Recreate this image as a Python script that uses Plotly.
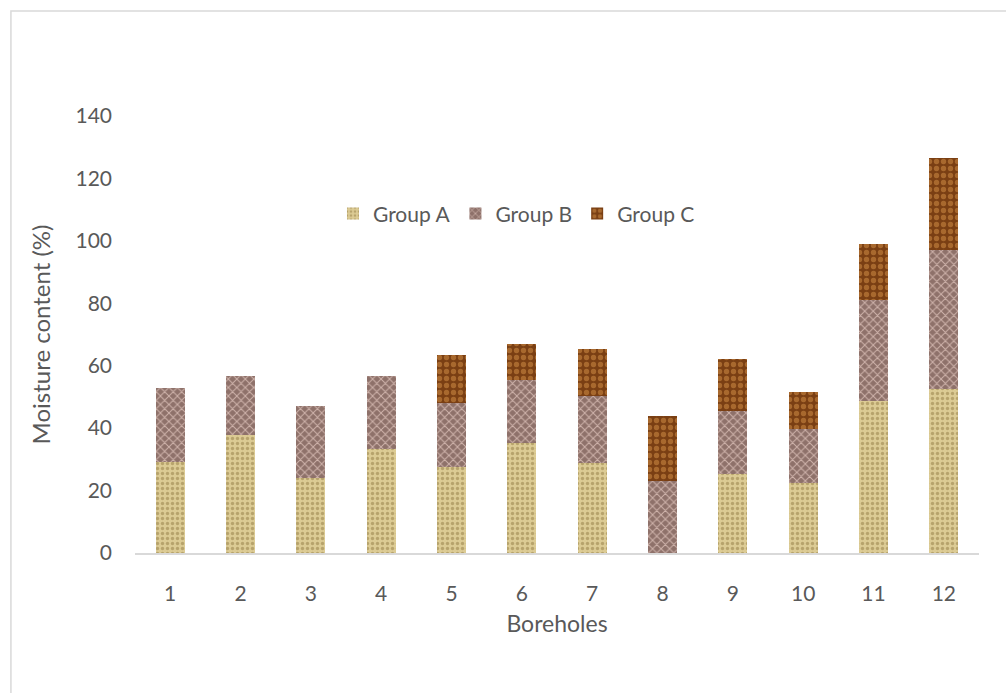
import plotly.graph_objects as go

# Moisture content per borehole, split into three stacked groups
boreholes = ["1", "2", "3", "4", "5", "6", "7", "8", "9", "10", "11", "12"]
group_a = [29.3, 37.8, 24.1, 33.3, 27.7, 35.4, 28.9, 0.0, 25.4, 22.5, 48.8, 52.7]
group_b = [23.6, 18.9, 23.0, 23.4, 20.3, 20.0, 21.4, 23.1, 20.1, 17.2, 32.3, 44.4]
group_c = [0.0, 0.0, 0.0, 0.0, 15.5, 11.6, 15.1, 20.8, 16.7, 11.9, 17.9, 29.5]
y_ticks = [0, 20, 40, 60, 80, 100, 120, 140]

FONT = "Lato, 'Open Sans', sans-serif"
TEXT = "#595959"

# textured fills: sand, snake skin, wood
styles = [
    ("Group A", group_a, dict(bgcolor="#dccb94", fgcolor="#b7a36c", shape=".", size=5, solidity=0.35)),
    ("Group B", group_b, dict(bgcolor="#8e716a", fgcolor="#cfb3ab", shape="x", size=6, solidity=0.3)),
    ("Group C", group_c, dict(bgcolor="#7a3f13", fgcolor="#a8692e", shape=".", size=7, solidity=0.45)),
]

fig = go.Figure()
for name, vals, pat in styles:
    fig.add_trace(go.Bar(
        x=boreholes, y=vals, name=name,
        marker=dict(color=pat["bgcolor"], line=dict(width=0),
                    pattern=dict(shape=pat["shape"], bgcolor=pat["bgcolor"],
                                 fgcolor=pat["fgcolor"], size=pat["size"],
                                 solidity=pat["solidity"], fillmode="replace")),
    ))

fig.update_layout(
    barmode="stack",
    bargap=0.59,
    width=1006, height=693,
    margin=dict(l=135, r=27, t=116, b=140),
    paper_bgcolor="white", plot_bgcolor="white",
    font=dict(family=FONT, color=TEXT, size=21),
    legend=dict(orientation="h", x=0.452, xanchor="center", y=0.776, yanchor="middle",
                font=dict(size=21, color=TEXT), bgcolor="rgba(0,0,0,0)",
                traceorder="normal", itemwidth=30, tracegroupgap=0),
    xaxis=dict(
        title=dict(text="Boreholes", font=dict(size=23, color=TEXT), standoff=12),
        showline=True, linecolor="#d9d9d9", linewidth=1.5,
        ticks="", ticklabelstandoff=21, showgrid=False, tickfont=dict(size=21, color=TEXT),
    ),
    yaxis=dict(
        title=dict(text="Moisture content (%)", font=dict(size=24, color=TEXT), standoff=18),
        range=[0, 140], tickvals=y_ticks, showgrid=False, zeroline=False,
        showline=False, ticks="", ticklabelstandoff=22, tickfont=dict(size=21, color=TEXT),
    ),
    showlegend=True,
)

# light outer frame around the chart area
fig.add_shape(type="rect", xref="paper", yref="paper",
              x0=-0.147, x1=1.04, y0=-0.34, y1=1.2403,
              line=dict(color="#d9d9d9", width=1.5), fillcolor="rgba(0,0,0,0)",
              layer="below")

fig.write_html("out.html")
